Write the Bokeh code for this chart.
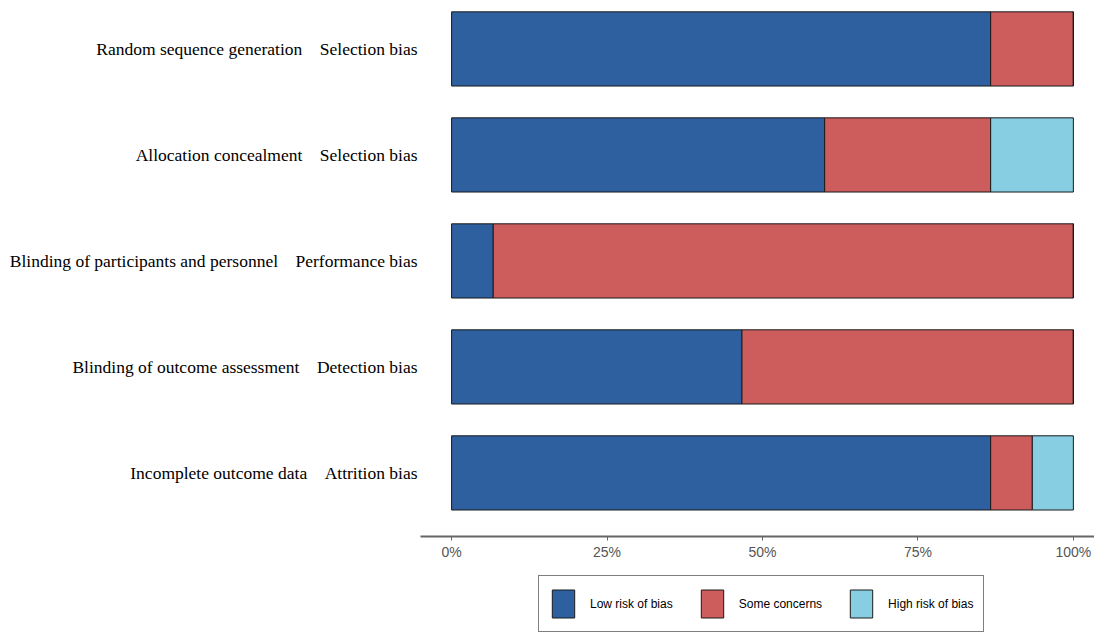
from bokeh.plotting import figure
from bokeh.layouts import column
from bokeh.models import (ColumnDataSource, Range1d, FixedTicker, PrintfTickFormatter,
                          Legend, LegendItem)
from bokeh.embed import file_html
from bokeh.resources import INLINE

# Risk-of-bias summary: share of studies per judgement (percent)
domains = ["Random sequence generation", "Allocation concealment",
           "Blinding of participants and personnel", "Blinding of outcome assessment",
           "Incomplete outcome data"]
bias_types = ["Selection bias", "Selection bias", "Performance bias",
              "Detection bias", "Attrition bias"]
low_risk = [86.7, 60.0, 6.7, 46.7, 86.7]
some_concerns = [13.3, 26.7, 93.3, 53.3, 6.7]
high_risk = [0.0, 13.3, 0.0, 0.0, 6.6]

judgements = ["Low risk of bias", "Some concerns", "High risk of bias"]
colors = ["#2E5F9F", "#CD5C5C", "#87CEE3"]
x_ticks = [0, 25, 50, 75, 100]

n = len(domains)
ypos = list(range(n, 0, -1))
source = ColumnDataSource(dict(y=ypos, low=low_risk, some=some_concerns, high=high_risk))
stack_cols = ["low", "some", "high"]

X_RANGE = (-5, 103.4)

p = figure(width=1094, height=570, output_backend="svg", toolbar_location=None,
           x_range=Range1d(*X_RANGE), y_range=Range1d(0.4, 5.457),
           min_border_left=420, min_border_right=0, min_border_top=0,
           min_border_bottom=34)
p.outline_line_color = None
p.xgrid.visible = False
p.ygrid.visible = False
p.background_fill_color = "white"
p.border_fill_color = "white"

p.hbar_stack(stack_cols, y="y", height=0.7, source=source,
             fill_color=colors, line_color="#1a1a1a", line_width=1)

# x axis: percentages
xa = p.xaxis[0]
xa.ticker = FixedTicker(ticks=x_ticks)
xa.formatter = PrintfTickFormatter(format="%d%%")
xa.axis_line_color = "#666666"
xa.axis_line_width = 2
xa.major_tick_line_color = "#666666"
xa.major_tick_out = 4
xa.major_tick_in = 0
xa.minor_tick_line_color = None
xa.major_label_text_font = "Liberation Sans"
xa.major_label_text_font_size = "14px"
xa.major_label_text_color = "#555555"
xa.major_label_standoff = 3

# y axis: domain and bias type labels
ya = p.yaxis[0]
ya.ticker = FixedTicker(ticks=ypos)
gap = "\u00a0" * 4
ya.major_label_overrides = {y: f"{d}{gap}{b}" for y, d, b in zip(ypos, domains, bias_types)}
ya.axis_line_color = None
ya.major_tick_line_color = None
ya.minor_tick_line_color = None
ya.major_tick_out = 0
ya.major_label_standoff = 3
ya.major_label_text_font = "Liberation Serif"
ya.major_label_text_font_size = "17.5px"
ya.major_label_text_color = "black"

# Legend strip underneath the chart
lg = figure(width=1094, height=62, output_backend="svg", toolbar_location=None,
            x_range=Range1d(*X_RANGE), y_range=Range1d(0, 1),
            x_axis_location=None, y_axis_location=None,
            min_border_left=420, min_border_right=0, min_border_top=0,
            min_border_bottom=0)
lg.outline_line_color = None
lg.xgrid.visible = False
lg.ygrid.visible = False
keys = lg.hbar_stack(stack_cols, y="y", height=0.7, source=source,
                     fill_color=colors, line_color="#1a1a1a", line_width=1)
for r in keys:
    r.visible = False

legend = Legend(items=[LegendItem(label=lab, renderers=[r]) for lab, r in zip(judgements, keys)],
                orientation="horizontal", location=(118, 0),
                glyph_width=28, glyph_height=35, label_standoff=13, spacing=25,
                padding=10, margin=0,
                border_line_color="black", border_line_width=1,
                background_fill_color="white", background_fill_alpha=1,
                inactive_fill_alpha=0,
                label_text_font="Liberation Sans", label_text_font_size="12px",
                label_text_color="black")
lg.add_layout(legend)

open("out.html", "w").write(file_html(column(p, lg, spacing=0), INLINE))
